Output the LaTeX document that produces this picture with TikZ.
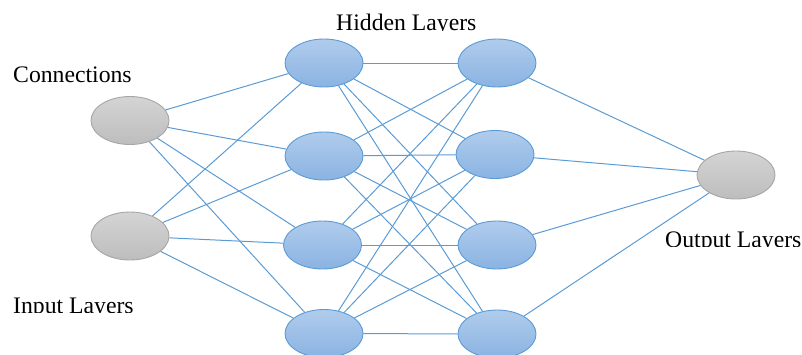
\documentclass[tikz,border=0pt]{standalone}
\usepackage{fontspec}
\setmainfont{Liberation Serif}
\usetikzlibrary{shapes.geometric}
\definecolor{edgeblue}{HTML}{5B9BD5}
\definecolor{bluetop}{HTML}{B0CCEC}
\definecolor{bluebot}{HTML}{8AB3E2}
\definecolor{blueline}{HTML}{5B9BD5}
\definecolor{graytop}{HTML}{D4D4D4}
\definecolor{graybot}{HTML}{BDBDBD}
\definecolor{grayline}{HTML}{A6A6A6}
\tikzset{
  neuron/.style={ellipse, minimum width=78pt, minimum height=48pt, inner sep=0pt,
    top color=bluetop, bottom color=bluebot, draw=blueline, line width=0.9pt},
  ionode/.style={ellipse, minimum width=78pt, minimum height=48pt, inner sep=0pt,
    top color=graytop, bottom color=graybot, draw=grayline, line width=0.9pt},
  link/.style={draw=edgeblue, line width=1pt},
  lbl/.style={font=\fontsize{23.7}{28}\selectfont, inner sep=0pt, anchor=base west}
}
\begin{document}
\begin{tikzpicture}[x=1pt,y=-1pt]
\useasboundingbox (0,0) rectangle (802,354);
% nodes
\node[ionode] (i1) at (130,120.5) {};
\node[ionode] (i2) at (130,236) {};
\node[neuron] (a1) at (324,63) {};
\node[neuron] (a2) at (324,156) {};
\node[neuron] (a3) at (322.5,245) {};
\node[neuron] (a4) at (324,333.5) {};
\node[neuron] (b1) at (497,63) {};
\node[neuron] (b2) at (495,154.5) {};
\node[neuron] (b3) at (497,245) {};
\node[neuron] (b4) at (497,334) {};
\node[ionode] (o) at (736,175) {};
% connections
\foreach \s in {i1,i2}{\foreach \t in {a1,a2,a3,a4}{\draw[link] (\s) -- (\t);}}
\foreach \s in {a1,a2,a3,a4}{\foreach \t in {b1,b2,b3,b4}{\draw[link] (\s) -- (\t);}}
\foreach \s in {b1,b2,b3,b4}{\draw[link] (\s) -- (o);}
% labels (clipped at baseline as in the reference)
\begin{scope}
\clip (0,40) rectangle (300,82.6);
\node[lbl] (tconn) at (13,82.6) {Connections};
\end{scope}
\begin{scope}
\clip (300,0) rectangle (500,30.4);
\node[lbl] (thid) at (336,30.4) {Hidden Layers};
\end{scope}
\begin{scope}
\clip (0,285) rectangle (300,312.5);
\node[lbl] (tin) at (13,313) {Input Layers};
\end{scope}
\begin{scope}
\clip (640,225) rectangle (802,246.6);
\node[lbl] (tout) at (665,247) {Output Layers};
\end{scope}
\end{tikzpicture}
\end{document}
